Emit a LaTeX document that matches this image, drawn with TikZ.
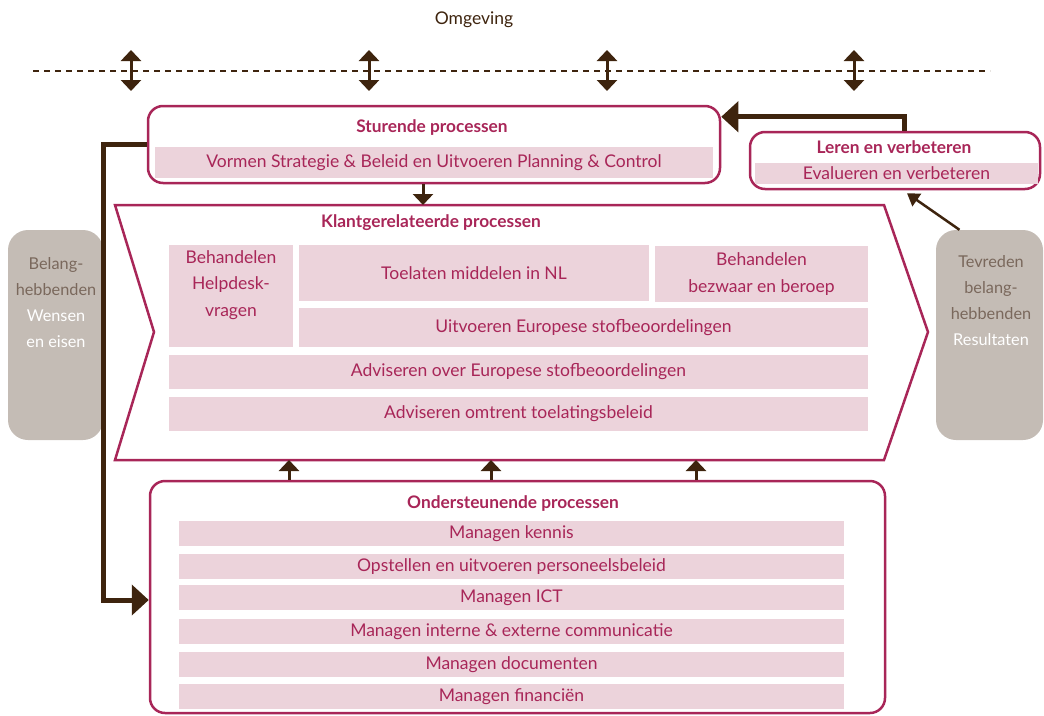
\documentclass[tikz,border=0pt]{standalone}
\usepackage{fontspec}
\setmainfont{Lato}
\usetikzlibrary{arrows.meta,positioning,calc}

\definecolor{crimson}{RGB}{168,38,88}
\definecolor{bandpink}{RGB}{236,211,219}
\definecolor{stonegray}{RGB}{196,188,181}
\definecolor{stonetext}{RGB}{122,104,92}
\definecolor{darkbrown}{RGB}{62,36,14}

\tikzset{
    every node/.style={font=\fontsize{17.5}{26.5}\selectfont},
    proc box/.style={draw=crimson, line width=2.5pt, rounded corners=15pt, inner sep=0pt},
    band/.style={fill=bandpink, text=crimson, inner sep=0pt, align=center},
    proc title/.style={text=crimson, font=\fontsize{17.3}{20}\selectfont\bfseries},
    stake box/.style={fill=stonegray, rounded corners=20pt, inner sep=0pt, minimum height=210pt},
    stake text/.style={text=stonetext, align=center, font=\fontsize{16.3}{26}\selectfont},
    thick arrow/.style={draw=darkbrown, line width=5pt, -{Triangle[width=30pt,length=17pt]}},
    thin arrow/.style={draw=darkbrown, line width=3pt, -{Triangle[width=20pt,length=11pt]}},
    twin arrow/.style={draw=darkbrown, line width=3pt, {Triangle[width=20pt,length=11pt]}-{Triangle[width=20pt,length=11pt]}}
}

\begin{document}
\begin{tikzpicture}[
            x = 1pt, y = -1pt, % pixel grid, y runs downwards
            line join = miter
        ]
        \useasboundingbox (0,0) rectangle (1044,715);

        % environment
        \node[text=darkbrown] (env) at (474,20) {Omgeving};
        \coordinate (env west) at (33,71);
        \coordinate (env east) at (990,71);
        \draw[darkbrown, line width=2.8pt, dash pattern=on 6pt off 5pt] (env west) -- (env east);
        \coordinate (e1) at (131,71);
        \coordinate (e2) at (369,71);
        \coordinate (e3) at (607,71);
        \coordinate (e4) at (854,71);
        \draw[twin arrow] ([yshift=21pt]e1) -- ([yshift=-20pt]e1);
        \draw[twin arrow] ([yshift=21pt]e2) -- ([yshift=-20pt]e2);
        \draw[twin arrow] ([yshift=21pt]e3) -- ([yshift=-20pt]e3);
        \draw[twin arrow] ([yshift=21pt]e4) -- ([yshift=-20pt]e4);

        % sturende processen
        \node[proc box, minimum width=572pt, minimum height=77pt] (stu) at (434,144.5) {};
        \node[proc title] (stu title) at (432,128) {Sturende processen};
        \node[band, minimum width=558pt, minimum height=31pt] (stu band) at (434,162.5) {Vormen Strategie \& Beleid en Uitvoeren Planning \& Control};

        % leren en verbeteren
        \node[proc box, minimum width=290pt, minimum height=57pt] (leren) at (895,160.5) {};
        \node[proc title] (leren title) at (894,147.5) {Leren en verbeteren};
        \node[band, minimum width=283pt, minimum height=21pt] (leren band) at (896.5,173.5) {Evalueren en verbeteren};

        % stakeholders
        \node[stake box, minimum width=95pt] (wens) at (55.5,335) {};
        \node[stake text] (wens text) at (56,302.5) {Belang-\\hebbenden\\\textcolor{white}{Wensen}\\\textcolor{white}{en eisen}};
        \node[stake box, minimum width=107pt] (tev) at (989.5,335) {};
        \node[stake text] (tev text) at (991,301) {Tevreden\\belang-\\hebbenden\\\textcolor{white}{Resultaten}};

        % klantgerelateerde processen
        \coordinate (k nw) at (115,205);
        \coordinate (k ne) at (884,205);
        \coordinate (k tip) at (928,332);
        \coordinate (k se) at (884,460);
        \coordinate (k sw) at (115,460);
        \coordinate (k notch) at (154,332);
        \draw[crimson, line width=2.5pt] (k nw) -- (k ne) -- (k tip) -- (k se) -- (k sw) -- (k notch) -- cycle;
        \node[proc title] (klant title) at (431,223) {Klantgerelateerde processen};
        \node[band, minimum width=124pt, minimum height=102pt] (help) at (231,296) {};
        \node[text=crimson, align=center] (help text) at (231,285) {Behandelen\\Helpdesk-\\vragen};
        \node[band, minimum width=350pt, minimum height=56pt] (toel) at (474,273) {Toelaten middelen in NL};
        \node[band, minimum width=213pt, minimum height=56pt] (bezw) at (761.5,274) {Behandelen\\bezwaar en beroep};
        \node[band, minimum width=569pt, minimum height=39pt] (uitv) at (583.5,327.5) {Uitvoeren Europese stofbeoordelingen};
        \node[band, minimum width=699pt, minimum height=34pt] (adv over) at (518.5,372) {Adviseren over Europese stofbeoordelingen};
        \node[band, minimum width=699pt, minimum height=34pt] (adv beleid) at (518.5,414) {Adviseren omtrent toelatingsbeleid};

        % ondersteunende processen
        \node[proc box, minimum width=735pt, minimum height=232pt] (ond) at (517.5,597) {};
        \node[proc title] (ond title) at (513,503.5) {Ondersteunende processen};
        \node[band, minimum width=665pt, minimum height=25pt] (kennis) at (511.5,533.5) {Managen kennis};
        \node[band, minimum width=665pt, minimum height=25pt] (personeel) at (511.5,566.5) {Opstellen en uitvoeren personeelsbeleid};
        \node[band, minimum width=665pt, minimum height=25pt] (ict) at (511.5,597.5) {Managen ICT};
        \node[band, minimum width=665pt, minimum height=25pt] (comm) at (511.5,631.5) {Managen interne \& externe communicatie};
        \node[band, minimum width=665pt, minimum height=25pt] (docs) at (511.5,664.5) {Managen documenten};
        \node[band, minimum width=665pt, minimum height=25pt] (fin) at (511.5,696.5) {Managen financiën};

        % connectors
        \coordinate (down) at (423,205);
        \draw[thin arrow] (down |- stu.south) -- (down);
        \coordinate (up1) at (289,460);
        \coordinate (up2) at (491,460);
        \coordinate (up3) at (696,460);
        \draw[thin arrow] (up1 |- ond.north) -- (up1);
        \draw[thin arrow] (up2 |- ond.north) -- (up2);
        \draw[thin arrow] (up3 |- ond.north) -- (up3);
        \draw[thick arrow] ([xshift=9pt]leren.north) |- ([yshift=-12pt]stu.north east);
        \draw[thick arrow] (stu.west) -- ++(-43,0) |- ([yshift=-3pt]ond.west);
        \draw[darkbrown, line width=2.5pt, -{Triangle[width=15pt,length=12pt]}] ([xshift=-30pt]tev.north) -- ([xshift=12pt,yshift=-3pt]leren.south);

  \end{tikzpicture}
\end{document}
